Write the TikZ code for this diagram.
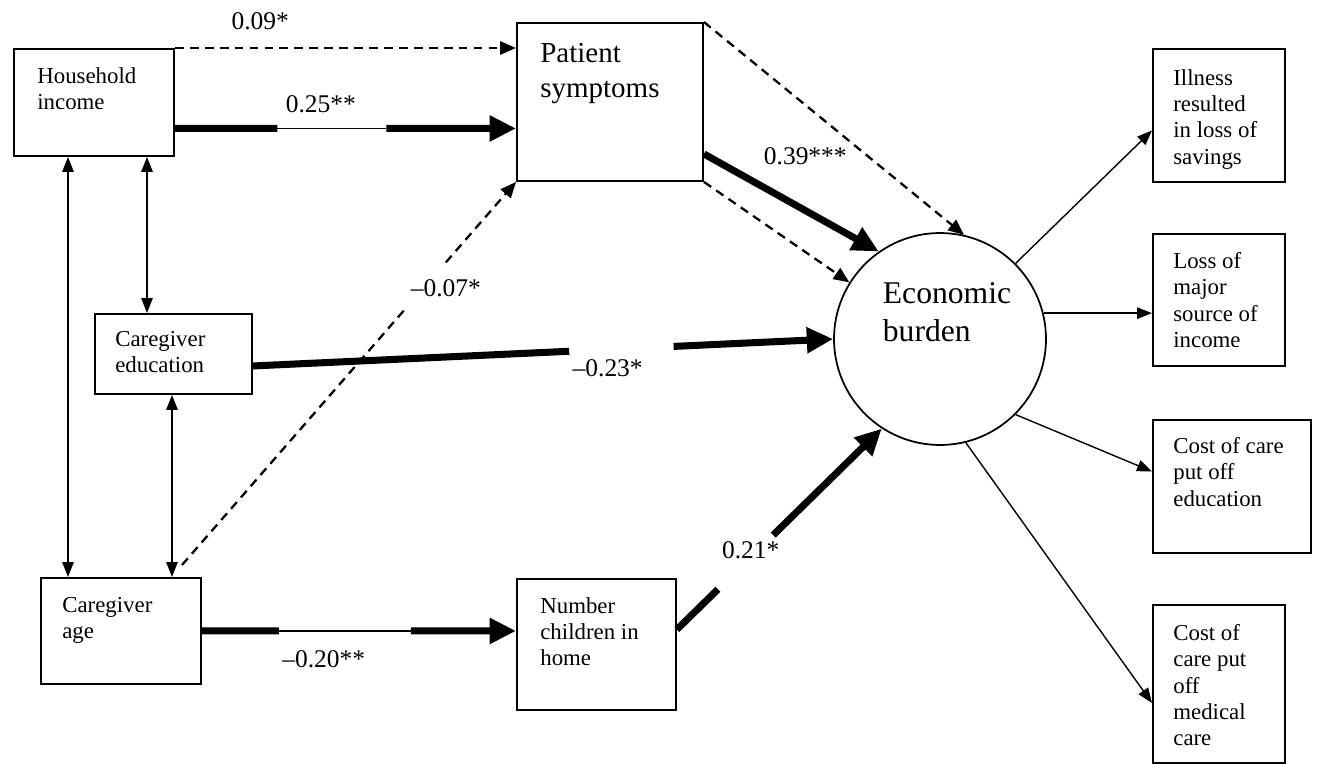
\documentclass[tikz,border=0pt]{standalone}
\usepackage{fontspec}
\setmainfont{Liberation Serif}
\usetikzlibrary{arrows.meta,positioning,calc}

\begin{document}
\begin{tikzpicture}[
  x=0.02cm, y=-0.02cm,
  box/.style 2 args={draw, line width=1.1pt, rectangle, anchor=north west, inner sep=0pt,
                     minimum width=#1*0.02cm, minimum height=#2*0.02cm},
  txt/.style={anchor=north west, inner sep=0pt, align=left, font=\fontsize{13}{15}\selectfont},
  bigtxt/.style={txt, font=\fontsize{16.5}{20}\selectfont},
  lbl/.style={inner sep=1pt, font=\fontsize{14.5}{16}\selectfont},
  heavy/.style={line width=4pt},
  heavyarrow/.style={heavy, -{Triangle[length=15pt,width=14pt]}},
  thinline/.style={line width=0.8pt},
  thinarrow/.style={thinline, -{Triangle[length=8.5pt,width=6.5pt]}},
  twoway/.style={thinline, {Triangle[length=8.5pt,width=6.5pt]}-{Triangle[length=8.5pt,width=6.5pt]}},
  dasharrow/.style={line width=1.3pt, dash pattern=on 5pt off 3.5pt,
                    -{Triangle[length=9pt,width=7.5pt]}},
]
\useasboundingbox (0,0) rectangle (1320,764);

% ---------------- boxes ---------------------------------------------
\node[box={160}{107}] (hi) at (13,48) {};
\node[box={186}{158}] (ps) at (516,22) {};
\node[box={157}{80}]  (ce) at (94,313) {};
\node[box={160}{106}] (ca) at (40,577) {};
\node[box={159}{131}] (nc) at (516,578) {};
\node[draw, circle, line width=1pt, minimum size=4.24cm, inner sep=0pt] (eb) at (940,339) {};

\node[box={132}{133}] (il) at (1152,48) {};
\node[box={132}{132}] (lm) at (1152,233) {};
\node[box={158}{133}] (cc) at (1152,419) {};
\node[box={132}{158}] (cm) at (1152,604) {};

% ---------------- texts ---------------------------------------------
\node[txt] (hit) at ($(hi.north west)+(24,19)$) {Household\\income};
\node[bigtxt] (pst) at ($(ps.north west)+(24,21)$) {Patient\\symptoms};
\node[txt] (cet) at ($(ce.north west)+(21,18)$) {Caregiver\\education};
\node[txt] (cat) at ($(ca.north west)+(22,20)$) {Caregiver\\age};
\node[txt] (nct) at ($(nc.north west)+(24,19)$) {Number\\children in\\home};
\node[font=\fontsize{18}{21.6}\selectfont, align=left, inner sep=0pt] (ebt) at (947,312)
  {Economic\\burden};

\node[txt] (ilt) at ($(il.north west)+(21,21)$) {Illness\\resulted\\in loss of\\savings};
\node[txt] (lmt) at ($(lm.north west)+(21,19)$) {Loss of\\major\\source of\\income};
\node[txt] (cct) at ($(cc.north west)+(21,18)$) {Cost of care\\put off\\education};
\node[txt] (cmt) at ($(cm.north west)+(21,20)$) {Cost of\\care put\\off\\medical\\care};

% ---------------- correlations --------------------------------------
\coordinate (hl) at ($(hi.south west)+(55,0)$);
\coordinate (hr) at ($(hi.south west)+(134,0)$);
\coordinate (cem) at ($(ce.south west)+(78,0)$);
\draw[twoway] (hl) -- (hl |- ca.north);
\draw[twoway] (hr) -- (hr |- ce.north);
\draw[twoway] (cem) -- (cem |- ca.north);

% ---------------- paths into symptoms -------------------------------
\draw[dasharrow] (hi.north east) -- (hi.north east -| ps.west)
  node[lbl, pos=0.25, yshift=15pt] (l09) {0.09*};

\coordinate (hio) at ($(hi.east)+(0,26)$);
\coordinate (psi) at (hio -| ps.west);
\draw[heavyarrow] (hio) -- ($(hio)!.3!(psi)$) ($(hio)!.62!(psi)$) -- (psi);
\draw[thinline] ($(hio)!.3!(psi)$) -- ($(hio)!.62!(psi)$)
  node[lbl, pos=0.4, yshift=14pt] (l25) {0.25**};

\coordinate (cao) at ($(ca.north west)+(142,-12)$);
\draw[dasharrow] (cao) -- ($(cao)!.67!(ps.south west)$)
  ($(cao)!.79!(ps.south west)$) -- (ps.south west);
\node[lbl] (l07) at ($(cao)!.73!(ps.south west)+(20,3)$) {–0.07*};

% ---------------- paths into burden ---------------------------------
\coordinate (ceo) at ($(ce.east)+(0,12)$);
\draw[heavyarrow] (ceo) -- ($(ceo)!.545!(eb.180)$)
  node[lbl, anchor=north west, inner sep=0pt, yshift=-3pt] (l23) {–0.23*}
  ($(ceo)!.725!(eb.180)$) -- (eb.180);

\coordinate (nci) at (ca.east -| nc.west);
\draw[heavyarrow] (ca.east) -- ($(ca.east)!.245!(nci)$) ($(ca.east)!.665!(nci)$) -- (nci);
\draw[thinline] ($(ca.east)!.245!(nci)$) -- ($(ca.east)!.665!(nci)$)
  node[lbl, pos=0.34, yshift=-16pt] (l20) {–0.20**};

\coordinate (nco) at ($(nc.east)+(0,-15)$);
\draw[heavyarrow] (nco) -- ($(nco)!.2!(eb.237)$)
  ($(nco)!.36!(eb.237)$) node[lbl, yshift=4pt] (l21) {0.21*}
  ($(nco)!.47!(eb.237)$) -- (eb.237);

\coordinate (pso) at ($(ps.east)+(0,52)$);
\draw[heavyarrow] (pso) -- (eb.125) node[lbl, pos=0.58, yshift=31pt] (l39) {0.39***};
\draw[dasharrow] (ps.north east) -- (eb.77);
\draw[dasharrow] (ps.south east) -- (eb.148);

% ---------------- outcomes ------------------------------------------
\draw[thinarrow] (eb.45) -- ($(il.west)+(0,15)$);
\draw[thinarrow] (eb.14) -- (eb.14 -| lm.west);
\draw[thinarrow] (eb.315) -- ($(cc.west)+(0,-15)$);
\draw[thinarrow] (eb.284) -- ($(cm.west)+(0,19)$);

\end{tikzpicture}
\end{document}
